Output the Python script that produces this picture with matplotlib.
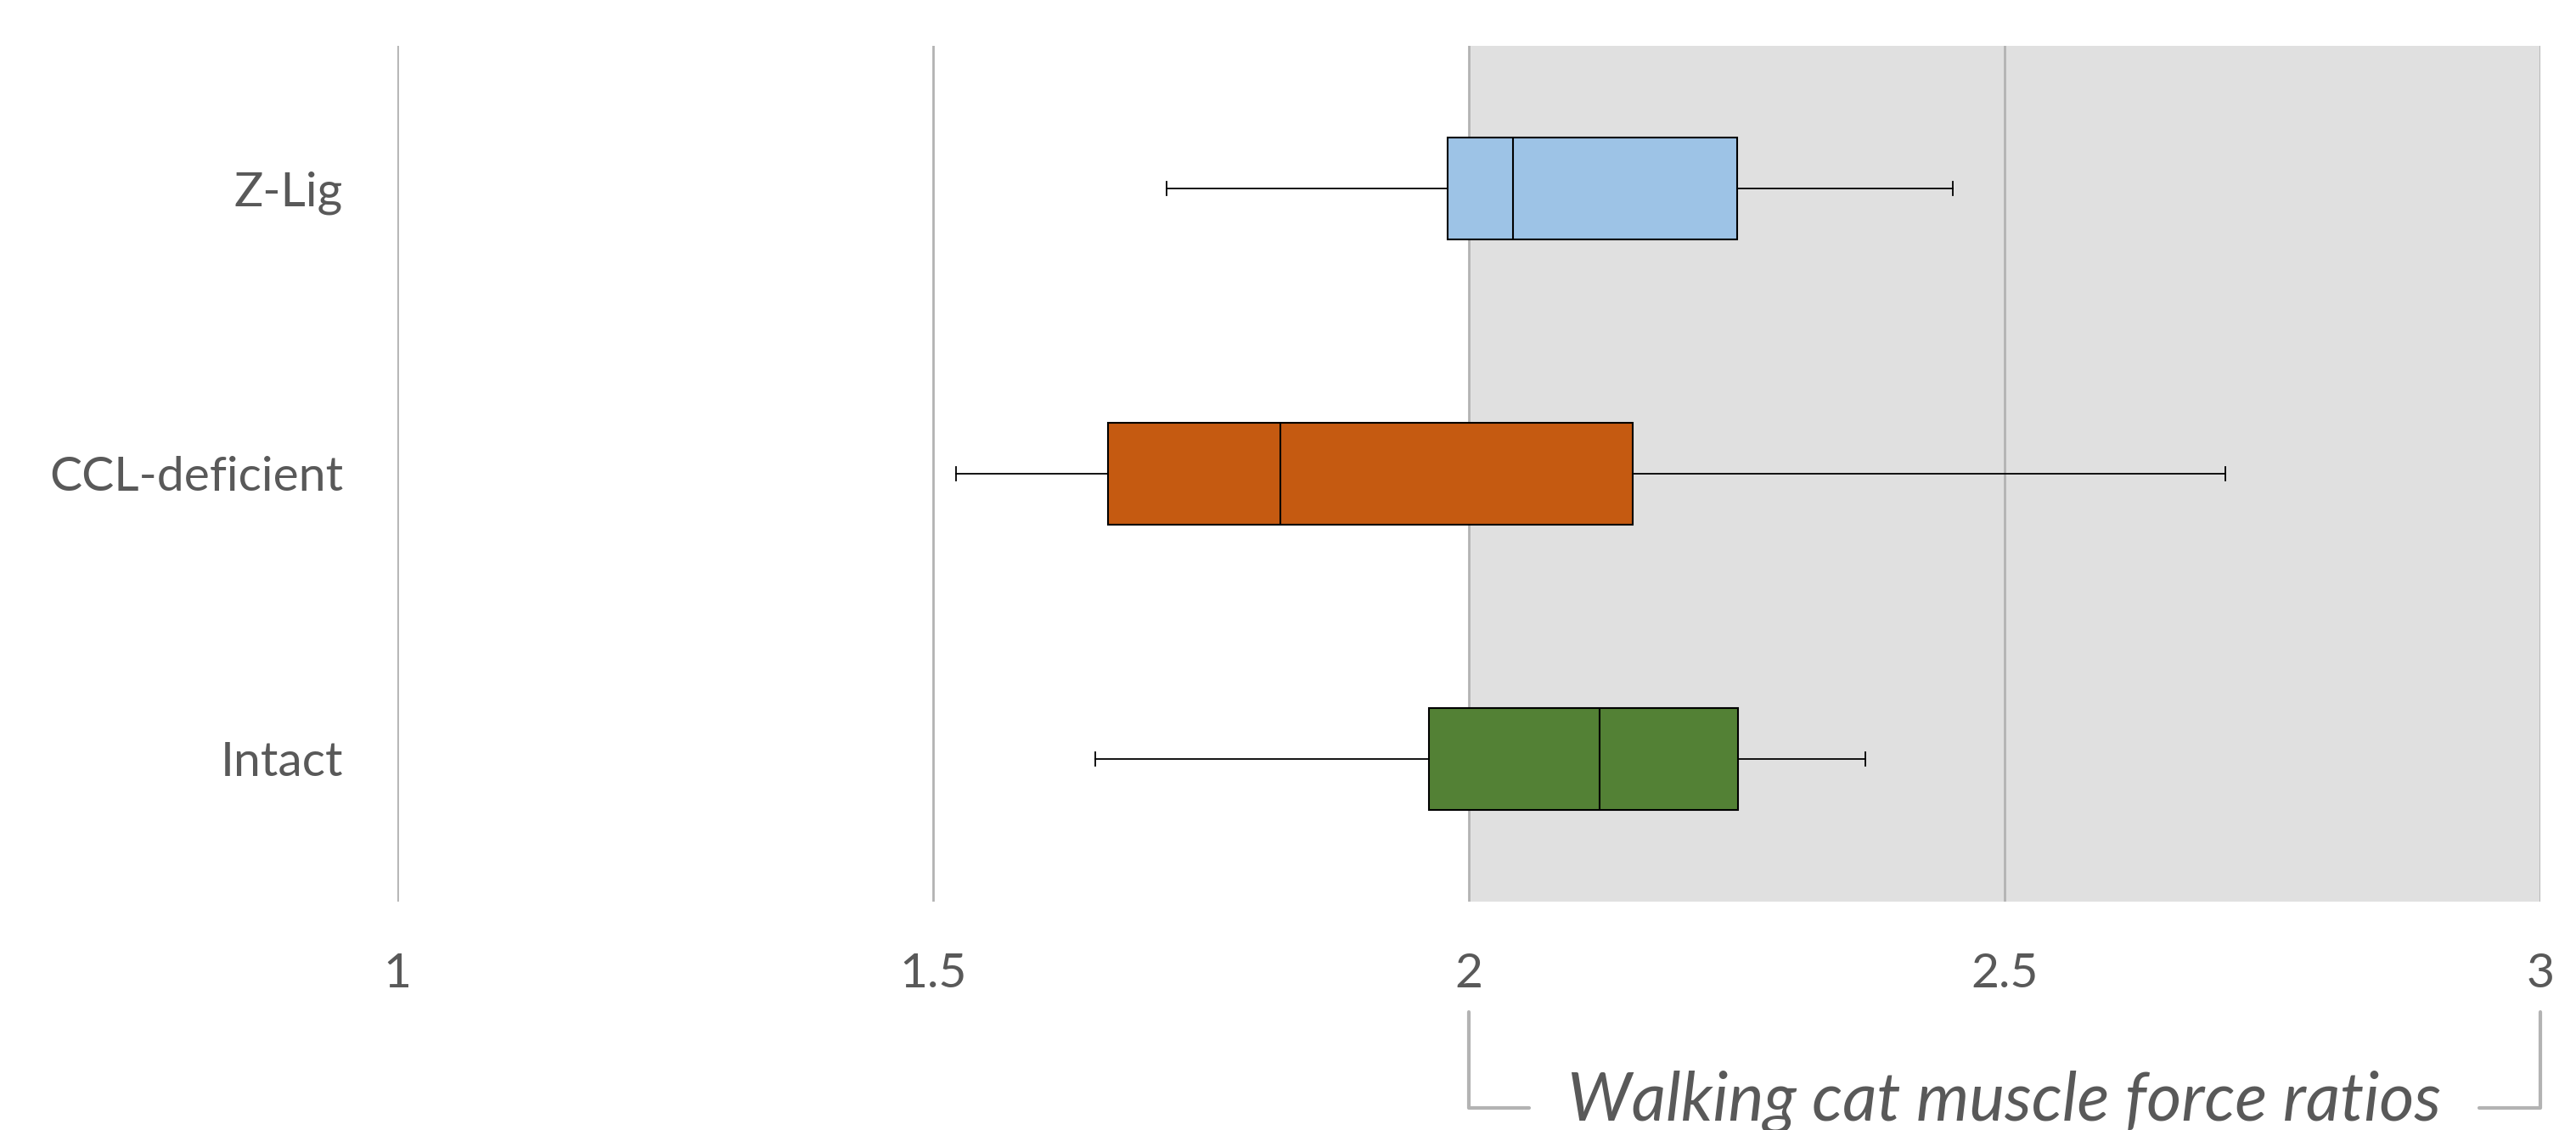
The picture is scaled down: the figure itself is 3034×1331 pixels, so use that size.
import matplotlib
matplotlib.use("Agg")
import matplotlib.pyplot as plt
import matplotlib.transforms as mtransforms

plt.rcParams['font.family'] = ['Lato', 'DejaVu Sans']

# data (bottom to top)
groups = ["Intact", "CCL-deficient", "Z-Lig"]
whisker_low = [1.651, 1.521, 1.718]
q1 = [1.963, 1.663, 1.980]
median = [2.122, 1.824, 2.041]
q3 = [2.251, 2.153, 2.250]
whisker_high = [2.370, 2.706, 2.452]
box_colors = ["#538135", "#c55a11", "#9dc3e6"]

xticks = [1, 1.5, 2, 2.5, 3]
xtick_labels = ["1", "1.5", "2", "2.5", "3"]
zone = (2, 3)
zone_label = "Walking cat muscle force ratios"

text_color = "#595959"
grid_color = "#b3b3b3"

fig = plt.figure(figsize=(30.34, 13.31), dpi=100)
ax = fig.add_axes([468 / 3034, 269 / 1331, 2524 / 3034, 1008 / 1331])

stats = []
for i, g in enumerate(groups):
    stats.append(dict(label=g, whislo=whisker_low[i], q1=q1[i], med=median[i],
                      q3=q3[i], whishi=whisker_high[i], fliers=[]))

bp = ax.bxp(stats, positions=range(len(groups)), widths=0.357,
            orientation='horizontal', patch_artist=True, showfliers=False,
            capwidths=0.048,
            boxprops=dict(edgecolor="black", linewidth=1.5),
            medianprops=dict(color="black", linewidth=1.5),
            whiskerprops=dict(color="black", linewidth=1.3),
            capprops=dict(color="black", linewidth=1.3))
for patch, c in zip(bp['boxes'], box_colors):
    patch.set_facecolor(c)
    patch.set_zorder(3)
for k in ('medians', 'whiskers', 'caps'):
    for ln in bp[k]:
        ln.set_zorder(4)

ax.axvspan(zone[0], zone[1], color="#e0e0e0", zorder=0, lw=0)
for xt in xticks:
    ax.axvline(xt, color=grid_color, linewidth=2, zorder=1)

ax.set_xlim(1, 3)
ax.set_ylim(-0.5, len(groups) - 0.5)
ax.set_xticks(xticks)
ax.set_xticklabels(xtick_labels)
ax.set_yticks(range(len(groups)))
ax.set_yticklabels(groups)
ax.tick_params(axis='both', length=0, labelsize=41, colors=text_color)
ax.tick_params(axis='x', pad=43)
ax.tick_params(axis='y', pad=46)
for s in ax.spines.values():
    s.set_visible(False)

# bracket below the axis marking the zone
tr = mtransforms.blended_transform_factory(ax.transData, ax.transAxes)
y_top, y_bot = -0.129, -0.241
bracket_kw = dict(color=grid_color, linewidth=3, solid_capstyle='round',
                  transform=tr, clip_on=False)
ax.plot([zone[0], zone[0], 2.056], [y_top, y_bot, y_bot], **bracket_kw)
ax.plot([2.943, zone[1], zone[1]], [y_bot, y_bot, y_top], **bracket_kw)
ax.text((zone[0] + zone[1]) / 2, -0.256, zone_label, transform=tr,
        ha='center', va='baseline', fontsize=57, style='italic',
        color=text_color)

fig.savefig("out.png", dpi=100)
plt.close(fig)
